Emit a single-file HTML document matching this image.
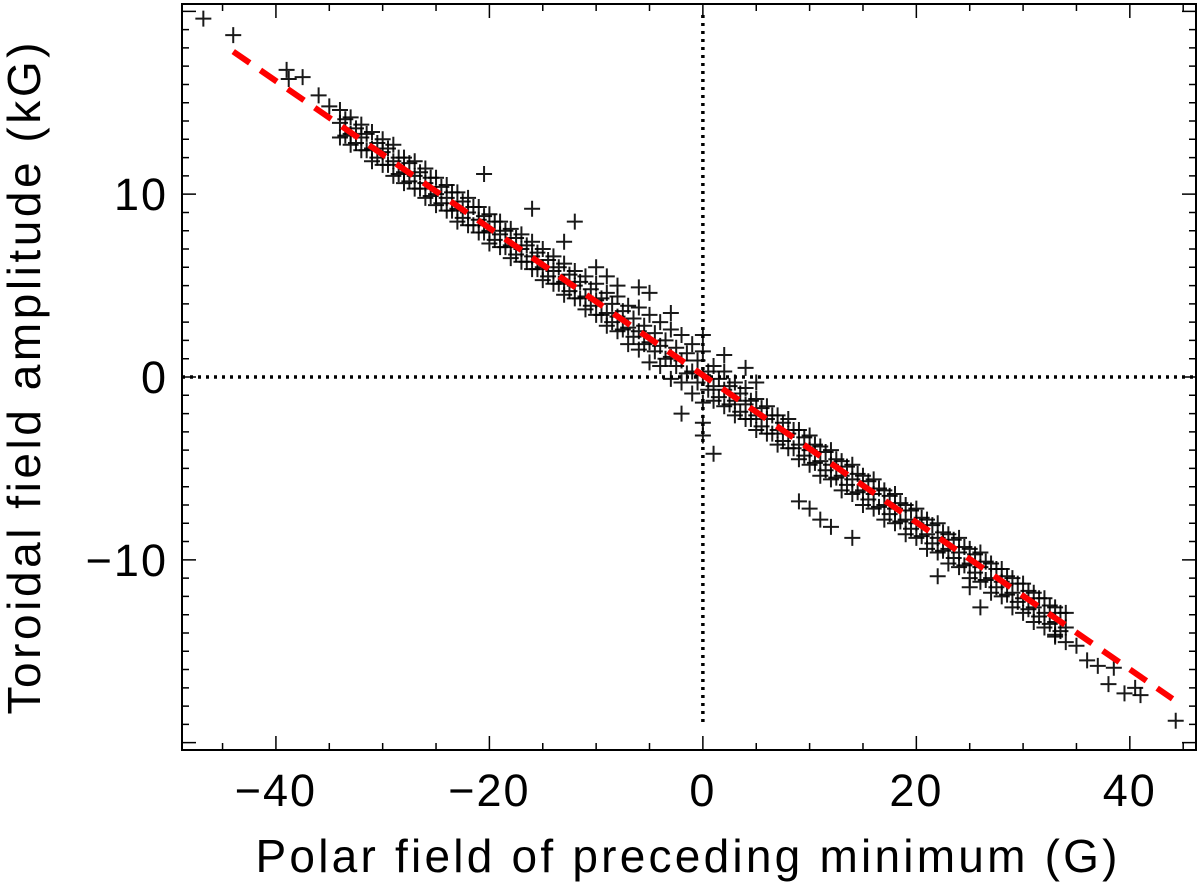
<!DOCTYPE html>
<html><head><meta charset="utf-8"><style>
html,body{margin:0;padding:0;background:#fff;}
svg{display:block;font-family:"Liberation Sans",sans-serif;}
</style></head><body>
<svg id="chart" width="1200" height="884" viewBox="0 0 1200 884">
<g id="marks"></g>
<g id="overlay"></g>
<g id="axes"></g>
<text x="688" y="872" text-anchor="middle" font-size="46" letter-spacing="3" fill="#000" textLength="865" lengthAdjust="spacing">Polar field of preceding minimum (G)</text>
<text transform="translate(40,377) rotate(-90)" text-anchor="middle" font-size="46" letter-spacing="3" fill="#000" textLength="675" lengthAdjust="spacing">Toroidal field amplitude (kG)</text>
</svg>
<script>
const xs=[-34,-33,-32,-31,-30,-29,-28,-27,-26,-25,-24,-23,-22,-21,-20,-19,-18,-17,-16,-15,-14,-13,-12,-11,-10,-9,-8,-7,-6,-5,-4,-3,-2,-1,0,1,2,3,4,5,6,7,8,9,10,11,12,13,14,15,16,17,18,19,20,21,22,23,24,25,26,27,28,29,30,31,32,33,34];
const yA=[14.6,14.2,13.8,13.4,13.0,12.7,12.0,11.8,11.4,10.9,10.5,10.1,9.8,9.3,8.9,8.5,8.1,7.8,7.4,7.0,6.6,6.2,5.8,5.5,5.1,4.6,4.4,3.9,3.8,3.4,3.0,2.6,2.3,1.8,1.4,0.6,0.3,-0.3,-0.6,-1.2,-1.6,-2.1,-2.3,-2.9,-3.2,-3.8,-4.0,-4.6,-4.8,-5.4,-5.6,-6.2,-6.4,-7.0,-7.2,-7.8,-8.0,-8.6,-8.8,-9.4,-9.6,-10.2,-10.5,-11.0,-11.3,-11.8,-12.1,-12.6,-12.9];
const yB=[13.9,13.3,13.1,12.5,12.3,11.8,11.2,11.0,10.6,10.0,9.8,9.2,9.0,8.6,8.0,7.8,7.2,7.0,6.6,6.0,5.8,5.2,5.0,4.4,4.2,3.5,3.3,2.7,2.5,1.9,1.7,1.1,0.9,0.3,0.1,-0.5,-0.7,-1.3,-1.5,-2.1,-2.3,-2.9,-3.1,-3.7,-4.0,-4.6,-4.8,-5.4,-5.6,-6.2,-6.4,-7.0,-7.2,-7.8,-8.0,-8.6,-8.8,-9.4,-9.6,-10.2,-10.4,-11.0,-11.2,-11.8,-12.1,-12.6,-12.9,-13.4,-13.7];
const yC=[13.1,12.7,12.4,11.8,11.6,11.0,10.6,10.3,9.8,9.4,9.1,8.5,8.3,7.9,7.3,7.1,6.5,6.3,5.9,5.3,5.1,4.5,4.3,3.7,3.4,2.8,2.5,1.8,1.5,0.8,0.6,-0.1,-0.3,-0.9,-1.4,-1.3,-1.6,-2.1,-2.3,-2.9,-3.1,-3.7,-3.9,-4.5,-4.8,-5.4,-5.6,-6.2,-6.4,-7.0,-7.2,-7.8,-8.0,-8.6,-8.8,-9.4,-9.6,-10.2,-10.4,-11.0,-11.2,-11.8,-12.0,-12.6,-12.9,-13.4,-13.7,-14.2,-14.5];
const xs2=[-33.5,-32.5,-31.5,-30.5,-29.5,-28.5,-27.5,-26.5,-25.5,-24.5,-23.5,-22.5,-21.5,-20.5,-19.5,-18.5,-17.5,-16.5,-15.5,-14.5,-13.5,-12.5,-11.5,-10.5,-9.5,-8.5,-7.5,-6.5,-5.5,-4.5,-3.5,-2.5,-1.5,-0.5,0.5,1.5,2.5,3.5,4.5,5.5,6.5,7.5,8.5,9.5,10.5,11.5,12.5,13.5,14.5,15.5,16.5,17.5,18.5,19.5,20.5,21.5,22.5,23.5,24.5,25.5,26.5,27.5,28.5,29.5,30.5,31.5,32.5,33.5];
const yD=[14.1,13.6,13.3,12.8,12.5,12.0,11.7,11.2,10.9,10.4,10.1,9.6,9.3,8.8,8.5,8.0,7.6,7.2,6.8,6.4,6.0,5.6,5.2,4.8,4.3,4.0,3.6,3.2,2.8,2.4,2.0,1.6,1.3,0.9,0.3,-0.1,-0.5,-0.9,-1.3,-1.7,-2.1,-2.5,-2.9,-3.3,-3.7,-4.1,-4.5,-4.9,-5.3,-5.7,-6.1,-6.5,-6.9,-7.3,-7.7,-8.1,-8.5,-8.9,-9.3,-9.7,-10.1,-10.5,-10.9,-11.3,-11.7,-12.1,-12.5,-12.9];
const yE=[13.2,12.8,12.4,12.0,11.6,11.1,10.7,10.3,9.9,9.5,9.1,8.7,8.3,7.9,7.5,7.1,6.7,6.3,5.9,5.5,5.1,4.7,4.3,3.9,3.4,3.0,2.6,2.2,1.8,1.4,1.0,0.6,0.2,-0.3,-0.7,-1.1,-1.5,-1.9,-2.3,-2.7,-3.1,-3.5,-3.9,-4.3,-4.7,-5.1,-5.5,-5.9,-6.3,-6.7,-7.1,-7.5,-7.9,-8.3,-8.7,-9.1,-9.5,-9.9,-10.3,-10.7,-11.1,-11.5,-11.9,-12.3,-12.7,-13.1,-13.5,-13.9];
const ox=[-46.8,-44,-39,-38.8,-37.5,-36,-35,-20.5,-16,-12,-9,-5,-3,0,2,-2,0,1,0,4,5,10,11,12,9,14,22,26,25,36,37,38,38.5,39.5,40.5,41,44.3,35,33,-6,-8,-10,-13];
const oy=[19.6,18.7,16.8,16.3,16.4,15.4,14.8,11.1,9.2,8.5,5.5,4.6,3.5,2.3,1.2,-2.0,-3.2,-4.2,-2.5,0.5,-0.3,-7.2,-7.8,-8.2,-6.8,-8.8,-10.9,-12.6,-11.5,-15.5,-15.8,-16.8,-15.9,-17.3,-17.0,-17.4,-18.8,-14.7,-14.1,4.9,5.0,6.0,7.4];
const fitX=[-44,44];
const fitY=[17.8,-17.6];
const xTicks=[-40,-20,0,20,40];
const yTicks=[-10,0,10];

const L=182,R=1196,T=4,B=750,XMIN=-48.8,XMAX=46.2,YMIN=-20.4,YMAX=20.4;
const sx=v=>L+(v-XMIN)/(XMAX-XMIN)*(R-L);
const sy=v=>B-(v-YMIN)/(YMAX-YMIN)*(B-T);
const NS="http://www.w3.org/2000/svg";
function mk(tag,attrs,parent){const e=document.createElementNS(NS,tag);for(const k in attrs)e.setAttribute(k,attrs[k]);parent.appendChild(e);return e;}
const marks=document.getElementById('marks');
function cross(x,y){
  const g=mk('path',{d:`M${sx(x)-8},${sy(y)}h16M${sx(x)},${sy(y)-8}v16`,stroke:'#000','stroke-width':2,'stroke-opacity':0.9,fill:'none'},marks);
  
  
}
[yA,yB,yC].forEach(ys=>xs.forEach((x,i)=>cross(x,ys[i])));
[yD,yE].forEach(ys=>xs2.forEach((x,i)=>cross(x,ys[i])));
ox.forEach((x,i)=>cross(x,oy[i]));
const ov=document.getElementById('overlay');
const vl=mk('line',{x1:sx(0),x2:sx(0),y1:sy(19.8),y2:sy(-19),stroke:'#000','stroke-width':3.5,'stroke-dasharray':'3 5'},ov);


const hl=mk('line',{x1:L,x2:R,y1:sy(0),y2:sy(0),stroke:'#000','stroke-width':3.5,'stroke-dasharray':'3 5'},ov);


const fl=mk('line',{x1:sx(fitX[0]),y1:sy(fitY[0]),x2:sx(fitX[1]),y2:sy(fitY[1]),stroke:'#ff0000','stroke-width':6,'stroke-dasharray':'20 13'},ov);


const ax=document.getElementById('axes');
const box=mk('rect',{x:L,y:T,width:R-L,height:B-T,fill:'none',stroke:'#000','stroke-width':2},ax);


let d='';
for(let v=-45;v<=45;v+=5){const len=(v%20===0)?14:7;const X=sx(v);d+=`M${X},${B}v${-len}M${X},${T}v${len}`;}
for(let v=-20;v<=20;v+=1){const len=(v%10===0)?14:7;const Y=sy(v);d+=`M${L},${Y}h${len}M${R},${Y}h${-len}`;}
const tk=mk('path',{d:d,stroke:'#000','stroke-width':1.5,fill:'none'},ax);


xTicks.forEach(v=>{const t=mk('text',{x:sx(v),y:806,'text-anchor':'middle','font-size':45,'letter-spacing':2,fill:'#000'},ax);t.textContent=(v<0?'\u2212'+(-v):v);

});
yTicks.forEach(v=>{const t=mk('text',{x:168,y:sy(v)+16,'text-anchor':'end','font-size':45,'letter-spacing':2,fill:'#000'},ax);t.textContent=(v<0?'\u2212'+(-v):v);

});
</script>
</body></html>
